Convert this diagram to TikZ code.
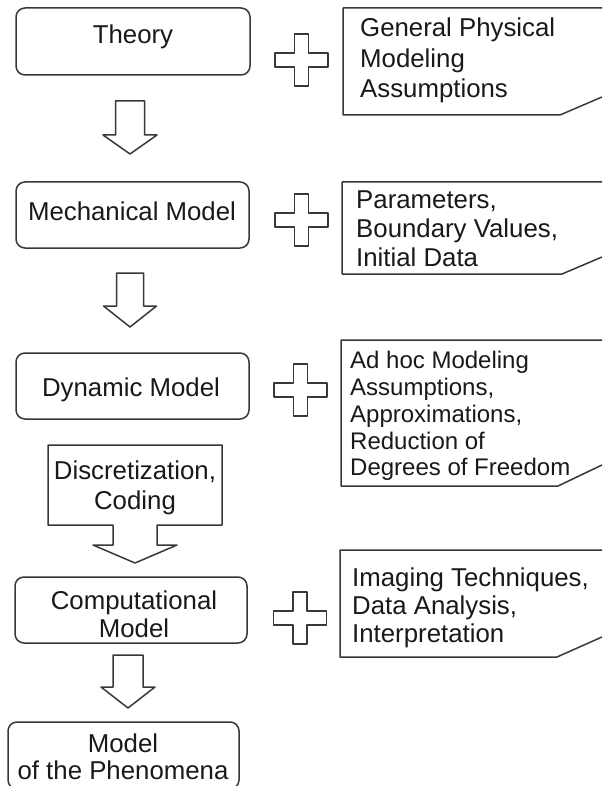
\documentclass[tikz,border=0pt]{standalone}
\usepackage{fontspec}
\setmainfont{Liberation Sans}
\newcommand\blockarrow[6]{\draw[ln] ({#1-#5},#2) -- ({#1+#5},#2) -- ({#1+#5},#3) -- ({#1+#6},#3) -- (#1,#4) -- ({#1-#6},#3) -- ({#1-#5},#3) -- cycle;}
\begin{document}
\begin{tikzpicture}[x=1pt,y=-1pt,line join=round]
\tikzset{
  ln/.style={draw=black!78, line width=1.5pt},
  mbox/.style={ln, rounded corners=9pt, anchor=north west, inner sep=0pt, outer sep=0pt},
  ltext/.style={font=\fontsize{25.8}{28}\selectfont, text=black!90, align=center, inner sep=0pt},
  rtext/.style={font=\fontsize{25.8}{30}\selectfont, text=black!90, align=left, anchor=north west, inner sep=0pt},
  plussign/.pic={\draw[ln] (-7,-26) -- (7,-26) -- (7,-7) -- (26.5,-7) -- (26.5,7) -- (7,7) -- (7,26) -- (-7,26) -- (-7,7) -- (-26.5,7) -- (-26.5,-7) -- (-7,-7) -- cycle;}
}
\useasboundingbox (0,0) rectangle (602,786);
\fill[white] (0,0) rectangle (602,786);
\begin{scope}
\clip (0,0) rectangle (602,786);

% left boxes
\node[mbox, minimum width=234pt, minimum height=67pt] (theory) at (16,8) {};
\node[ltext, anchor=base] (theoryT) at (133,44) {Theory};

\node[mbox, minimum width=233pt, minimum height=66pt] (mech) at (16,182) {};
\node[ltext, anchor=base] (mechT) at (132,221) {Mechanical Model};

\node[mbox, minimum width=233pt, minimum height=66pt] (dyn) at (16,353) {};
\node[ltext, anchor=base] (dynT) at (131,396) {Dynamic Model};

\node[mbox, minimum width=232pt, minimum height=66pt] (comp) at (15,577) {};
\node[ltext, anchor=north] (compT) at (134,591) {Computational\\Model};

\node[mbox, minimum width=231pt, minimum height=67pt] (phen) at (8,722) {};
\node[ltext, font=\fontsize{25.8}{27}\selectfont, anchor=north] (phenT) at (123,734) {Model\\of the Phenomena};

% block arrows
\blockarrow{130}{101}{135}{154}{14.5}{27}
\blockarrow{130}{273}{306}{327}{13.5}{26.5}
\blockarrow{128}{655}{687}{708}{15}{27}

% discretization callout
\draw[ln] (48,445) -- (222,445) -- (222,525) -- (157,525) -- (157,545) -- (177,545) -- (135,563) -- (93,545) -- (113,545) -- (113,525) -- (48,525) -- cycle;
\node[ltext, font=\fontsize{25.8}{30}\selectfont, anchor=north] (discT) at (135,461) {Discretization,\\Coding};

% plus signs
\pic (p1) at (301.5,60) {plussign};
\pic (p2) at (301.5,220) {plussign};
\pic (p3) at (300.5,390) {plussign};
\pic (p4) at (300,618) {plussign};

% right boxes
\draw[ln] (602,8) -- (343,8) -- (343,115) -- (560,115) -- (602,97);
\node[rtext, font=\fontsize{25.8}{30.5}\selectfont] (r1) at (360,17.75) {General Physical\\Modeling\\Assumptions};

\draw[ln] (602,182) -- (342,182) -- (342,274) -- (562,274) -- (602,257);
\node[rtext, font=\fontsize{25.8}{29}\selectfont] (r2) at (356,190.75) {Parameters,\\Boundary Values,\\Initial Data};

\draw[ln] (602,340) -- (341,340) -- (341,486) -- (558,486) -- (602,465);
\node[rtext, font=\fontsize{24}{26.75}\selectfont] (r3) at (350,351.4) {Ad hoc Modeling\\Assumptions,\\Approximations,\\Reduction of\\Degrees of Freedom};

\draw[ln] (602,550) -- (340,550) -- (340,657) -- (557,657) -- (602,637);
\node[rtext, font=\fontsize{25.8}{28}\selectfont] (r4) at (352,567.75) {Imaging Techniques,\\Data Analysis,\\Interpretation};
\end{scope}
\end{tikzpicture}
\end{document}
